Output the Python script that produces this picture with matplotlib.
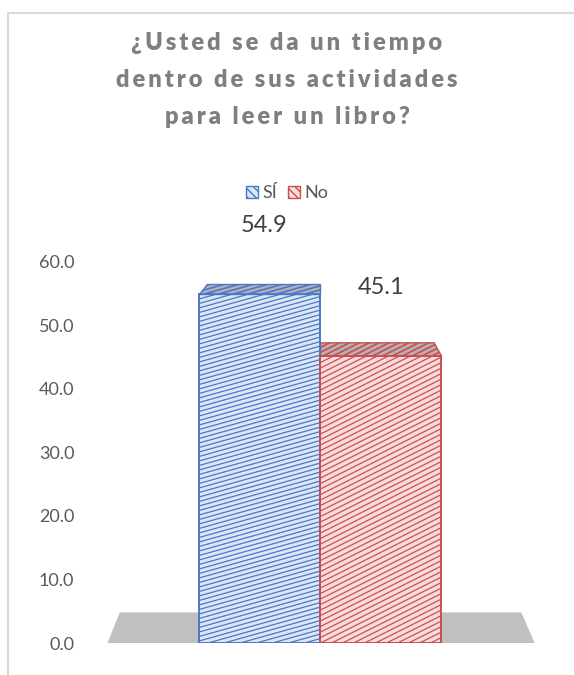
import matplotlib
matplotlib.use("Agg")
import matplotlib.pyplot as plt
import numpy as np
from matplotlib.patches import Polygon, Patch
from matplotlib.lines import Line2D

plt.rcParams['font.family'] = ['Lato', 'DejaVu Sans']

title_lines = ["¿Usted se da un tiempo", "dentro de sus actividades", "para leer un libro?"]
categories = ["SÍ", "No"]
values = [54.9, 45.1]
yticks = [0, 10, 20, 30, 40, 50, 60]

face_colors = ['#dce6f5', '#f8dcdc']
edge_colors = ['#4a78c8', '#cc4d4f']
hatch_slopes = [0.28, 0.5]
hatch_steps = [4.5, 5.5]

W, H = 574, 675
PX_X = 121.0   # pixels per x unit
PX_Y = 6.36    # pixels per y unit


def spaced(s):
    out = []
    for word in s.split(' '):
        out.append('\u2009'.join(word))
    return '\u2009 \u2009'.join(out)


def hatch(ax, patch, x0, x1, y0, y1, slope, step, color, lw=1.0):
    pw = (x1 - x0) * PX_X
    ph = (y1 - y0) * PX_Y
    c = -slope * pw
    while c < ph:
        xs = np.array([0, pw])
        ys = c + slope * xs
        ln, = ax.plot(x0 + xs / PX_X, y0 + ys / PX_Y, color=color, lw=lw, zorder=5)
        ln.set_clip_path(patch)
        c += step


fig = plt.figure(figsize=(W / 100, H / 100), dpi=100)

# chart border
fig.add_artist(Line2D([8 / W, 8 / W], [0, 1 - 13 / H], color='#d9d9d9', lw=1.5))
fig.add_artist(Line2D([8 / W, 1], [1 - 13 / H, 1 - 13 / H], color='#d9d9d9', lw=1.5))

ymax = 62
ax = fig.add_axes([78.5 / W, 32 / H, 4 * PX_X / W, ymax * PX_Y / H])
ax.set_xlim(-1.5, 2.5)
ax.set_ylim(0, ymax)

# floor
fd = 0.06 * 80
floor = Polygon([(-1.26, 0), (2.27, 0), (2.16, fd), (-1.16, fd)],
                closed=True, facecolor='#c0c0c0', edgecolor='none', zorder=1)
ax.add_patch(floor)

x = np.arange(len(values))
bars = ax.bar(x, values, width=1.0, color=face_colors, edgecolor=edge_colors,
              linewidth=1.2, zorder=3)

for i, b in enumerate(bars):
    x0, x1 = b.get_x(), b.get_x() + b.get_width()
    h = b.get_height()
    hatch(ax, b, x0, x1, 0, h, hatch_slopes[i], hatch_steps[i], edge_colors[i], lw=0.9)
    # top face
    d = 0.06 * (80 - h)
    bx0 = 0.5 + (x0 - 0.5) * 0.94
    bx1 = 0.5 + (x1 - 0.5) * 0.94
    top = Polygon([(x0, h), (x1, h), (bx1, h + d), (bx0, h + d)], closed=True,
                  facecolor='#b3b3b3', edgecolor=edge_colors[i], lw=1.0, zorder=4,
                  clip_on=False)
    ax.add_patch(top)
    hatch(ax, top, x0, x1, h, h + d, hatch_slopes[i], hatch_steps[i] * 0.9, edge_colors[i], lw=1.2)
    ax.text(x[i] + (0.03 if i == 0 else 0.0), h + 10.8, f"{values[i]:.1f}",
            ha='center', va='center', fontsize=17, color='#404040')

# redraw bar outlines above hatch
for i, b in enumerate(bars):
    ax.add_patch(plt.Rectangle((b.get_x(), 0), b.get_width(), b.get_height(),
                               fill=False, edgecolor=edge_colors[i], lw=1.2, zorder=6))

ax.set_xticks([])
ax.set_yticks(yticks)
ax.set_yticklabels([f"{t:.1f}" for t in yticks])
ax.tick_params(axis='y', length=0, pad=3, labelsize=13, labelcolor='#595959')
for s in ax.spines.values():
    s.set_visible(False)

fig.text(0.5, 1 - 80 / H, '\n'.join(spaced(t) for t in title_lines),
         ha='center', va='center', fontsize=17, fontweight='heavy',
         color='#7f7f7f', linespacing=1.82)

handles = [Patch(facecolor=face_colors[i], edgecolor=edge_colors[i], hatch='\\\\\\\\')
           for i in range(len(categories))]
leg = fig.legend(handles, categories, loc='center', bbox_to_anchor=(287 / W, 1 - 193 / H),
                 ncol=2, frameon=False, fontsize=13, handlelength=0.65, handleheight=0.65,
                 handletextpad=0.25, columnspacing=0.6, labelcolor='#595959')
for hp, c in zip(leg.legend_handles, edge_colors):
    hp._hatch_color = matplotlib.colors.to_rgba(c)

fig.savefig('out.png', dpi=100)
